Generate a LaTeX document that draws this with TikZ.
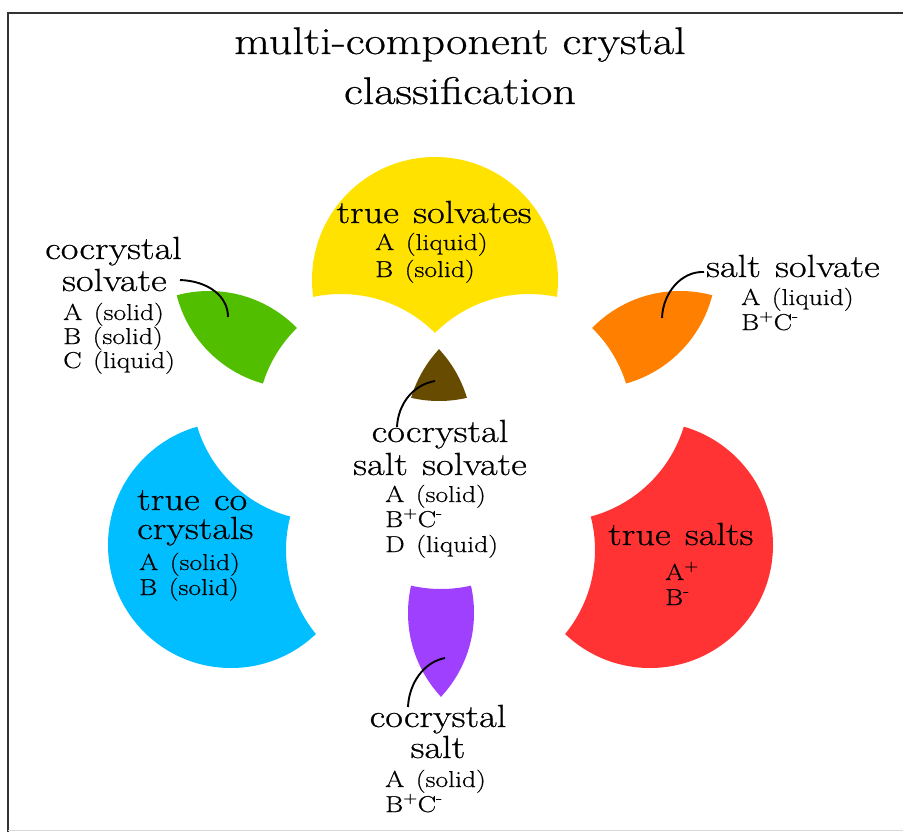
\documentclass[tikz,border=0pt]{standalone}
\usepackage{fontspec}
\setmainfont[FakeStretch=1.2,FakeBold=0.6]{Latin Modern Roman}
\definecolor{cY}{RGB}{255,226,0}
\definecolor{cG}{RGB}{82,190,0}
\definecolor{cO}{RGB}{255,128,0}
\definecolor{cBr}{RGB}{102,75,0}
\definecolor{cB}{RGB}{0,190,255}
\definecolor{cR}{RGB}{255,51,51}
\definecolor{cP}{RGB}{160,64,255}
\newcommand\cutcircle[1]{\clip (#1) circle (133) (-20,-20) rectangle (923,852);}
\newcommand\headfont{\fontsize{32}{36}\selectfont\spaceskip=0.45em plus 0.1em\relax}
\newcommand\subfont{\fontsize{23}{26}\selectfont\spaceskip=0.5em plus 0.1em\relax}
\begin{document}
\begin{tikzpicture}[x=1pt,y=-1pt,
  ttl/.style={font=\fontsize{38.5}{44}\selectfont, inner sep=0pt},
  head/.style={font=\headfont, inner sep=0pt},
  sub/.style={font=\subfont, inner sep=0pt},
  conn/.style={line width=1.9pt, black},
  region/.style={even odd rule},
]
\useasboundingbox (0,0) rectangle (903,832);
\fill[white] (0,0) rectangle (903,832);
% frame
\draw[line width=2.5pt, black!80] (903,13) -- (8,13) -- (8,832);
\draw[line width=1pt, black!15] (8,830) -- (903,830);

% yellow: true solvates
\begin{scope}[region]
\clip (435,280) circle (123);
\cutcircle{341,427}
\cutcircle{529,427}
\fill[cY] (0,0) rectangle (903,832);
\end{scope}
% green: cocrystal solvate
\begin{scope}[region]
\clip (296,265) circle (123);
\clip (209,414) circle (123);
\cutcircle{390,423}
\fill[cG] (0,0) rectangle (903,832);
\end{scope}
% orange: salt solvate
\begin{scope}[region]
\clip (593,265) circle (123);
\clip (680,414) circle (123);
\cutcircle{499,423}
\fill[cO] (0,0) rectangle (903,832);
\end{scope}
% blue: true cocrystals
\begin{scope}[region]
\clip (231,545) circle (123);
\cutcircle{324.5,388}
\cutcircle{419,550}
\fill[cB] (0,0) rectangle (903,832);
\end{scope}
% red: true salts
\begin{scope}[region]
\clip (650,545) circle (123);
\cutcircle{556.5,388}
\cutcircle{462,550}
\fill[cR] (0,0) rectangle (903,832);
\end{scope}
% purple: cocrystal salt
\begin{scope}[region]
\clip (351,613) circle (123);
\clip (531,613) circle (123);
\cutcircle{441,456}
\fill[cP] (0,0) rectangle (903,832);
\end{scope}
% brown: cocrystal salt solvate
\begin{scope}
\clip (439,278) circle (123);
\clip (349,433) circle (123);
\clip (529,433) circle (123);
\fill[cBr] (0,0) rectangle (903,832);
\end{scope}

% title
\node[ttl, anchor=base] (t1) at (460,54) {multi-component crystal};
\node[ttl, anchor=base] (t2) at (460,104) {classification};

% yellow labels
\node[head, anchor=base] (yh) at (434,223) {true solvates};
\node[sub, anchor=base west] (y1) at (375,250) {A (liquid)};
\node[sub, anchor=base west] (y2) at (375,277) {B (solid)};

% green labels
\node[head, anchor=base west] (g1) at (45,259) {cocrystal};
\node[head, anchor=base west] (g2) at (62,291) {solvate};
\node[sub, anchor=base west] (g3) at (63,320) {A (solid)};
\node[sub, anchor=base west] (g4) at (63,344) {B (solid)};
\node[sub, anchor=base west] (g5) at (63,368) {C (liquid)};

% orange labels
\node[head, anchor=base west] (o1) at (706,277) {salt solvate};
\node[sub, anchor=base west] (o2) at (741,305) {A (liquid)};
\node[sub, anchor=base west] (o3) at (741,330) {B\textsuperscript{+}C\textsuperscript{-}};

% centre labels
\node[head, anchor=base] (c1) at (440,442) {cocrystal};
\node[head, anchor=base] (c2) at (440,475) {salt solvate};
\node[sub, anchor=base west] (c3) at (385,502) {A (solid)};
\node[sub, anchor=base west] (c4) at (385,527) {B\textsuperscript{+}C\textsuperscript{-}};
\node[sub, anchor=base west] (c5) at (385,552) {D (liquid)};

% purple labels
\node[head, anchor=base] (p1) at (438,727) {cocrystal};
\node[head, anchor=base] (p2) at (438,758) {salt};
\node[sub, anchor=base west] (p3) at (385,787) {A (solid)};
\node[sub, anchor=base west] (p4) at (385,812) {B\textsuperscript{+}C\textsuperscript{-}};

% blue labels
\node[head, anchor=base west] (b1) at (137,510) {true co};
\node[head, anchor=base west] (b2) at (137,539) {crystals};
\node[sub, anchor=base west] (b3) at (139,570) {A (solid)};
\node[sub, anchor=base west] (b4) at (139,595) {B (solid)};

% red labels
\node[head, anchor=base west] (r1) at (608,545) {true salts};
\node[sub, anchor=base west] (r2) at (665,580) {A\textsuperscript{+}};
\node[sub, anchor=base west] (r3) at (665,605) {B\textsuperscript{-}};

% connectors
\coordinate (gc1) at (180,280);
\coordinate (gc2) at (228,317);
\draw[conn] (gc1) .. controls (208,281) and (228,296) .. (gc2);
\coordinate (oc1) at (704,272);
\coordinate (oc2) at (662,318);
\draw[conn] (oc1) .. controls (682,271) and (663,292) .. (oc2);
\coordinate (cc1) at (435,381);
\coordinate (cc2) at (397,427);
\draw[conn] (cc1) .. controls (412,385) and (398,405) .. (cc2);
\coordinate (pc1) at (445,658);
\coordinate (pc2) at (408,707);
\draw[conn] (pc1) .. controls (424,662) and (409,683) .. (pc2);
\end{tikzpicture}
\end{document}
